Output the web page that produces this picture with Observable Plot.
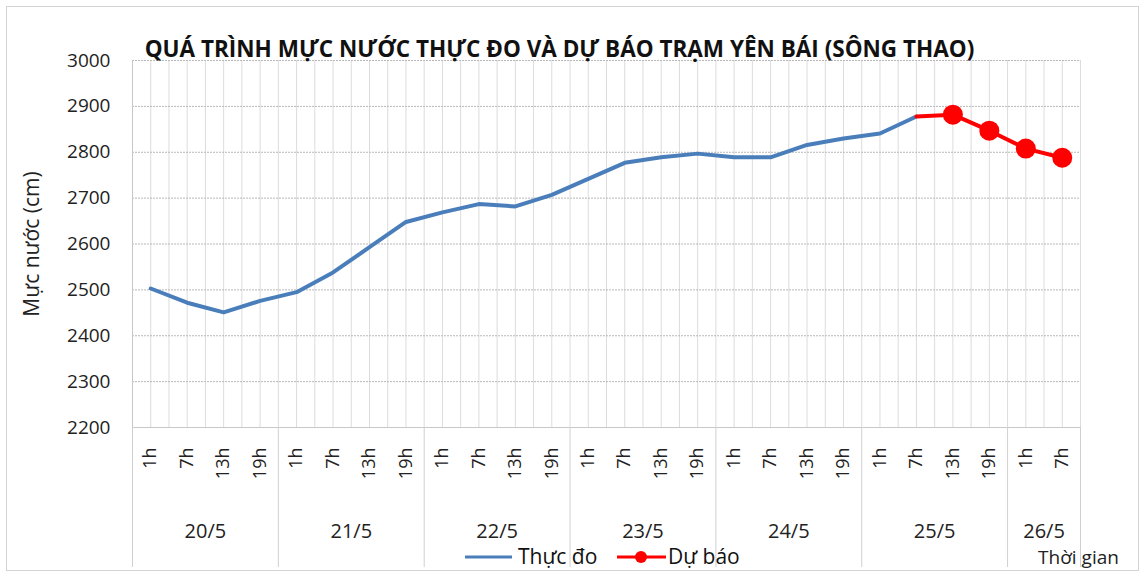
<!DOCTYPE html>
<html>
<head>
<meta charset="utf-8">
<script src="https://cdn.jsdelivr.net/npm/d3@7"></script>
<script src="https://cdn.jsdelivr.net/npm/@observablehq/plot@0.6"></script>
<style>
  body { margin: 0; background: #fff; }
  #wrap { position: relative; width: 1142px; height: 576px; font-family: "Open Sans", sans-serif; }
  #border { position: absolute; left: 6px; top: 6px; width: 1133px; height: 565px; border: 1px solid #d4d4d4; box-sizing: border-box; pointer-events: none; }
  #legend { position: absolute; left: 455px; top: 540px; }
  #chart svg { display: block; }
</style>
</head>
<body>
<div id="wrap">
  <div id="chart"></div>
  <div id="border"></div>
  <svg id="legend" width="300" height="34"></svg>
</div>
<script>
// ---- data ----
const title = "QUÁ TRÌNH MỰC NƯỚC THỰC ĐO VÀ DỰ BÁO TRẠM YÊN BÁI (SÔNG THAO)";
const yLabel = "Mực nước (cm)";
const xLabel = "Thời gian";
const days = ["20/5", "21/5", "22/5", "23/5", "24/5", "25/5", "26/5"];
const hours = ["1h", "7h", "13h", "19h"];
const hoursPerDay = [4, 4, 4, 4, 4, 4, 2];
const yTicks = [2200, 2300, 2400, 2500, 2600, 2700, 2800, 2900, 3000];
const observedName = "Thực đo";
const forecastName = "Dự báo";
const observed = [2503, 2472, 2451, 2476, 2495, 2538, 2593, 2648, 2669, 2687, 2682, 2707,
                  2742, 2777, 2789, 2797, 2789, 2789, 2816, 2830, 2841, 2878];
const forecast = [2878, 2882, 2847, 2808, 2788];
const forecastStartHour = "7h", forecastStartDay = "25/5";
const observedColor = "#4a7ebb";
const forecastColor = "#ff0000";

// ---- derived category structure ----
const slots = [];
days.forEach((d, di) => hours.slice(0, hoursPerDay[di]).forEach(h => slots.push({day: d, hour: h})));
const n = slots.length;
const idx = d3.range(n);
const forecastStart = slots.findIndex(s => s.day === forecastStartDay && s.hour === forecastStartHour);
let acc = 0;
const boundaries = [-0.5];
const dayCenters = [];
hoursPerDay.forEach(c => { dayCenters.push(acc + (c - 1) / 2); acc += c; boundaries.push(acc - 0.5); });
const halfGrid = d3.range(0, 2 * n + 1).map(k => k / 2 - 0.5);

const obsData = observed.map((v, i) => ({i, v}));
const fcData = forecast.map((v, k) => ({i: forecastStart + k, v}));

const chart = Plot.plot({
  width: 1142,
  height: 576,
  marginLeft: 132,
  marginRight: 62,
  marginTop: 60,
  marginBottom: 149,
  style: {fontFamily: "'Open Sans', sans-serif", background: "transparent"},
  x: {type: "linear", domain: [-0.5, n - 0.5], axis: null},
  y: {domain: [2200, 3000], axis: null},
  marks: [
    Plot.ruleX(halfGrid, {stroke: "#dcdcdc", strokeWidth: 1}),
    Plot.ruleY(yTicks, {stroke: "#b8b8b8", strokeWidth: 1, strokeDasharray: "2,1"}),
    Plot.ruleY([2200], {stroke: "#c8c8c8"}),
    Plot.ruleX([-0.5], {stroke: "#c8c8c8"}),
    Plot.axisY({ticks: yTicks, label: null, tickSize: 0, tickPadding: 22, fontSize: 19, fill: "#222",
                tickFormat: d => String(d)}),
    Plot.axisX({ticks: boundaries, label: null, tickSize: 140, tickFormat: () => "", stroke: "#d0d0d0"}),
    Plot.axisX({ticks: idx, label: null, tickSize: 0, tickPadding: 20, tickRotate: -90, fontSize: 18, fill: "#222",
                tickFormat: i => slots[i].hour}),
    Plot.axisX({ticks: dayCenters, label: null, tickSize: 0, tickPadding: 96, fontSize: 20, fill: "#222",
                tickFormat: c => days[dayCenters.indexOf(c)]}),
    Plot.line(obsData, {x: "i", y: "v", stroke: observedColor, strokeWidth: 4, strokeLinejoin: "round"}),
    Plot.line(fcData, {x: "i", y: "v", stroke: forecastColor, strokeWidth: 4}),
    Plot.dot(fcData.slice(1), {x: "i", y: "v", r: 10, fill: forecastColor, stroke: "none"}),
    Plot.text([title], {frameAnchor: "top", dx: -47, dy: -19, fontSize: 22.5, fontWeight: "bold", fill: "#111"}),
    Plot.text([yLabel], {frameAnchor: "left", textAnchor: "middle", rotate: -90, dx: -100, fontSize: 21, fill: "#222"}),
    Plot.text([xLabel], {frameAnchor: "bottom-right", dx: -2, dy: 136, textAnchor: "middle", fontSize: 19, fill: "#222"})
  ]
});
document.getElementById("chart").appendChild(chart);

// ---- legend ----
const lg = d3.select("#legend");
lg.append("line").attr("x1", 10).attr("x2", 57).attr("y1", 17).attr("y2", 17)
  .attr("stroke", observedColor).attr("stroke-width", 3);
lg.append("text").attr("x", 63).attr("y", 24).attr("font-size", 21).attr("fill", "#111")
  .attr("font-family", "'Open Sans', sans-serif").text(observedName);
lg.append("line").attr("x1", 162).attr("x2", 211).attr("y1", 17).attr("y2", 17)
  .attr("stroke", forecastColor).attr("stroke-width", 3);
lg.append("circle").attr("cx", 186).attr("cy", 17).attr("r", 6).attr("fill", forecastColor);
lg.append("text").attr("x", 213).attr("y", 24).attr("font-size", 21).attr("fill", "#111")
  .attr("font-family", "'Open Sans', sans-serif").text(forecastName);
</script>
</body>
</html>
